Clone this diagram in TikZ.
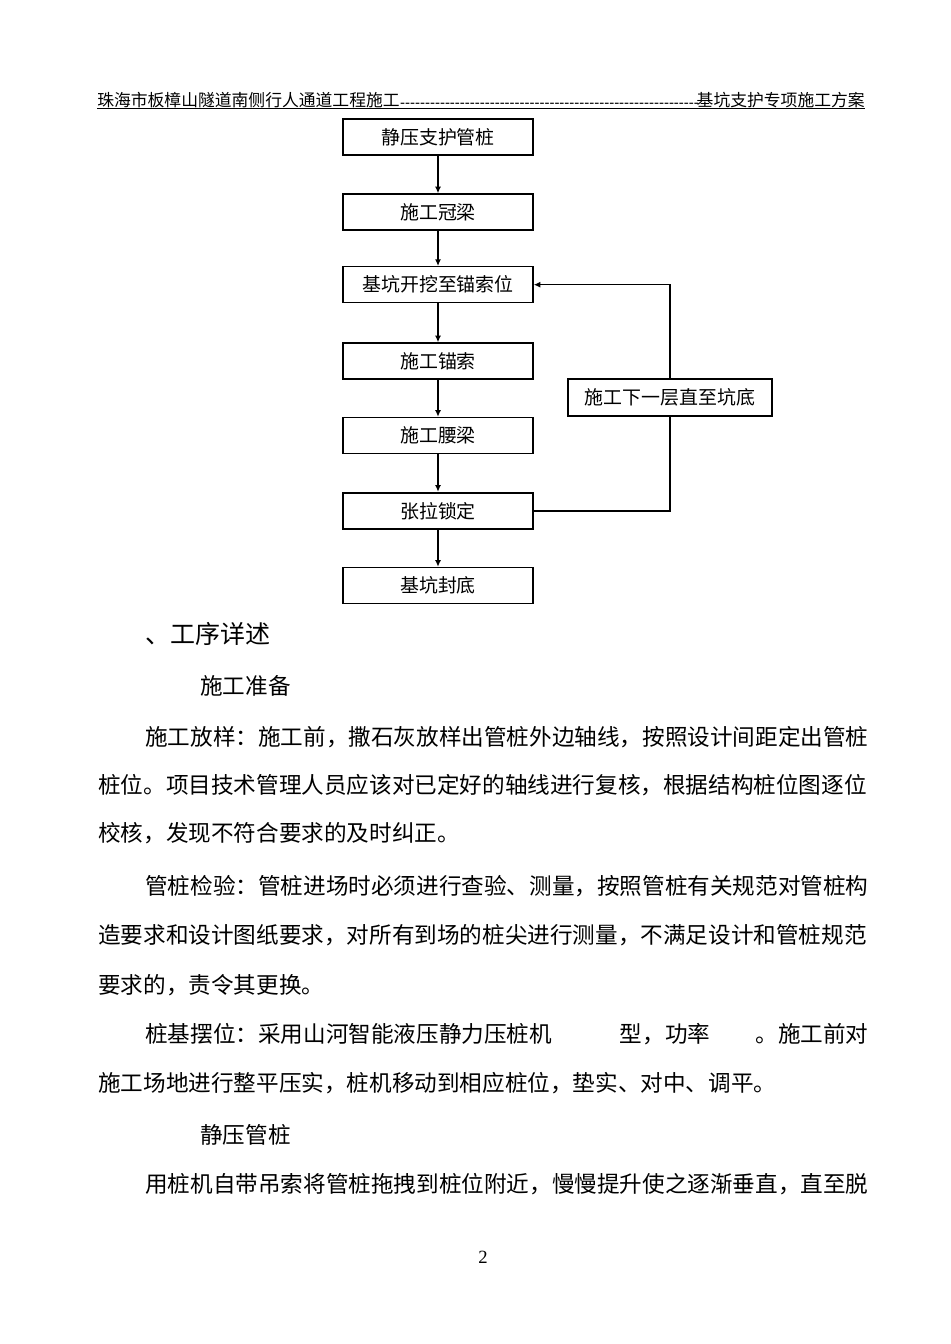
\documentclass[tikz,border=0pt]{standalone}
\usepackage{fontspec}
\usetikzlibrary{arrows.meta}
\newfontfamily\song{Noto Sans CJK SC}
\newfontfamily\numfont{Liberation Serif}
\newcommand\hy{-\kern0pt}
\newcommand\hyten{\hy\hy\hy\hy\hy\hy\hy\hy\hy\hy}
\begin{document}
\begin{tikzpicture}[x=0.75pt,y=-0.75pt,
  flowbox/.style={draw, line width=1pt, minimum width=142.5pt, minimum height=27pt, inner sep=0pt, font=\fontsize{14.2pt}{16pt}\song},
  flowboxthick/.style={flowbox, line width=1.8pt},
  sidebox/.style={flowbox, minimum width=153pt, minimum height=27.75pt},
  flowarrow/.style={line width=1.1pt, -{Latex[length=5pt,width=4.5pt]}},
  flowline/.style={line width=1.1pt},
  bodytext/.style={anchor=west, inner sep=0pt, font=\fontsize{16.95pt}{20pt}\song},
  headtext/.style={inner sep=0pt, font=\fontsize{12.6pt}{14pt}\song}]
\useasboundingbox (0,0) rectangle (950,1344);

% header
\node[headtext, anchor=west] (hl) at (97,100) {珠海市板樟山隧道南侧行人通道工程施工};
\node[headtext, anchor=east] (hr) at (865,100) {基坑支护专项施工方案};
\node[headtext, anchor=base west] (hd) at ([yshift=-1.5pt]hl.base east) {\resizebox{224pt}{\height}{\hyten\hyten\hyten\hyten\hyten\hyten}};
\draw[line width=1.1pt] (97,108.5) -- (865,108.5);

% flowchart
\node[flowboxthick] (b1) at (438,137) {静压支护管桩};
\node[flowbox] (b2) at (438,212) {施工冠梁};
\node[flowbox] (b3) at (438,284.7) {基坑开挖至锚索位};
\node[flowbox] (b4) at (438,361) {施工锚索};
\node[flowbox] (b5) at (438,435.5) {施工腰梁};
\node[flowboxthick] (b6) at (438,511) {张拉锁定};
\node[flowbox] (b7) at (438,585.5) {基坑封底};
\node[sidebox] (side) at (670,397.5) {施工下一层直至坑底};

\draw[flowarrow] (b1) -- (b2);
\draw[flowarrow] (b2) -- (b3);
\draw[flowarrow] (b3) -- (b4);
\draw[flowarrow] (b4) -- (b5);
\draw[flowarrow] (b5) -- (b6);
\draw[flowarrow] (b6) -- (b7);
\draw[flowline] (b6.east) -| (side.south);
\draw[flowarrow] (side.north) |- (b3.east);

% body text
\node[bodytext, font=\fontsize{18.75pt}{22pt}\song] (t0) at (145,634) {、工序详述};
\node[bodytext] (t1) at (200,686) {施工准备};
\node[bodytext] (t2) at (145,737) {施工放样：施工前，撒石灰放样出管桩外边轴线，按照设计间距定出管桩};
\node[bodytext] (t3) at (98,785) {桩位。项目技术管理人员应该对已定好的轴线进行复核，根据结构桩位图逐位};
\node[bodytext] (t4) at (98,833) {校核，发现不符合要求的及时纠正。};
\node[bodytext] (t5) at (145,886) {管桩检验：管桩进场时必须进行查验、测量，按照管桩有关规范对管桩构};
\node[bodytext] (t6) at (98,935) {造要求和设计图纸要求，对所有到场的桩尖进行测量，不满足设计和管桩规范};
\node[bodytext] (t7) at (98,985) {要求的，责令其更换。};
\node[bodytext] (t8) at (145,1034) {桩基摆位：采用山河智能液压静力压桩机\hspace{3em}型，功率\hspace{2em}。施工前对};
\node[bodytext] (t9) at (98,1083) {施工场地进行整平压实，桩机移动到相应桩位，垫实、对中、调平。};
\node[bodytext] (t10) at (200,1135) {静压管桩};
\node[bodytext] (t11) at (145,1184) {用桩机自带吊索将管桩拖拽到桩位附近，慢慢提升使之逐渐垂直，直至脱};
\node[inner sep=0pt, font=\fontsize{14pt}{16pt}\numfont] (pg) at (483,1257) {2};
\end{tikzpicture}
\end{document}
